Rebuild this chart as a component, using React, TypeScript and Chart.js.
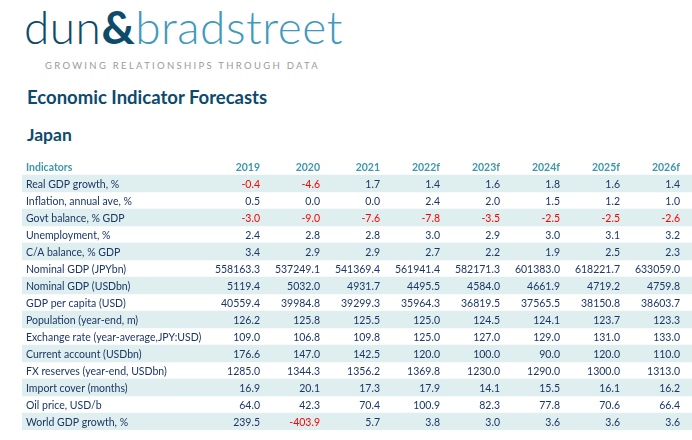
import React, { useEffect, useRef } from "react";
import { Chart, registerables } from "chart.js";

Chart.register(...registerables);

const years = ["2019", "2020", "2021", "2022f", "2023f", "2024f", "2025f", "2026f"];
const indicators = [
  "Real GDP growth, %",
  "Inflation, annual ave, %",
  "Govt balance, % GDP",
  "Unemployment, %",
  "C/A balance, % GDP",
  "Nominal GDP (JPYbn)",
  "Nominal GDP (USDbn)",
  "GDP per capita (USD)",
  "Population (year-end, m)",
  "Exchange rate (year-average,JPY:USD)",
  "Current account (USDbn)",
  "FX reserves (year-end, USDbn)",
  "Import cover (months)",
  "Oil price, USD/b",
  "World GDP growth, %",
];

const realGdpGrowth = [-0.4, -4.6, 1.7, 1.4, 1.6, 1.8, 1.6, 1.4];
const inflation = [0.5, 0.0, 0.0, 2.4, 2.0, 1.5, 1.2, 1.0];
const govtBalance = [-3.0, -9.0, -7.6, -7.8, -3.5, -2.5, -2.5, -2.6];
const unemployment = [2.4, 2.8, 2.8, 3.0, 2.9, 3.0, 3.1, 3.2];
const caBalance = [3.4, 2.9, 2.9, 2.7, 2.2, 1.9, 2.5, 2.3];
const nominalGdpJpy = [558163.3, 537249.1, 541369.4, 561941.4, 582171.3, 601383.0, 618221.7, 633059.0];
const nominalGdpUsd = [5119.4, 5032.0, 4931.7, 4495.5, 4584.0, 4661.9, 4719.2, 4759.8];
const gdpPerCapita = [40559.4, 39984.8, 39299.3, 35964.3, 36819.5, 37565.5, 38150.8, 38603.7];
const population = [126.2, 125.8, 125.5, 125.0, 124.5, 124.1, 123.7, 123.3];
const exchangeRate = [109.0, 106.8, 109.8, 125.0, 127.0, 129.0, 131.0, 133.0];
const currentAccount = [176.6, 147.0, 142.5, 120.0, 100.0, 90.0, 120.0, 110.0];
const fxReserves = [1285.0, 1344.3, 1356.2, 1369.8, 1230.0, 1290.0, 1300.0, 1313.0];
const importCover = [16.9, 20.1, 17.3, 17.9, 14.1, 15.5, 16.1, 16.2];
const oilPrice = [64.0, 42.3, 70.4, 100.9, 82.3, 77.8, 70.6, 66.4];
const worldGdpGrowth = [239.5, -403.9, 5.7, 3.8, 3.0, 3.6, 3.6, 3.6];

const rows = [
  realGdpGrowth, inflation, govtBalance, unemployment, caBalance, nominalGdpJpy,
  nominalGdpUsd, gdpPerCapita, population, exchangeRate, currentAccount,
  fxReserves, importCover, oilPrice, worldGdpGrowth,
];

const NAVY = "#1c3767";
const TEAL = "#3d98ae";
const BAND = "#dfeeee";
const RED = "#ff0000";
const FONT = "Lato";

export default function App() {
  const ref = useRef<HTMLCanvasElement | null>(null);

  useEffect(() => {
    if (!ref.current) return;
    const labels = ["Indicators", ...indicators];
    const shading = labels.map((_, i) => (i % 2 === 1 ? 1 : null));

    const textPlugin = {
      id: "tableText",
      afterDatasetsDraw(chart: any) {
        const ctx = chart.ctx;
        const y = chart.scales.y;
        const xc = chart.scales.xc;
        ctx.save();
        ctx.textBaseline = "middle";
        const labelX = xc.getPixelForValue(-2.9);
        labels.forEach((lab, i) => {
          const py = y.getPixelForValue(i) + 1;
          if (i === 0) {
            ctx.font = `bold 10.5px ${FONT}`;
            ctx.fillStyle = TEAL;
            ctx.textAlign = "left";
            ctx.fillText(lab, labelX, py);
            ctx.textAlign = "right";
            years.forEach((yr, k) => {
              ctx.fillText(yr, xc.getPixelForValue(k + 1), py);
            });
          } else {
            ctx.font = `10.5px ${FONT}`;
            ctx.fillStyle = NAVY;
            ctx.textAlign = "left";
            ctx.fillText(lab, labelX, py);
            ctx.textAlign = "right";
            rows[i - 1].forEach((v, k) => {
              ctx.fillStyle = v < 0 ? RED : NAVY;
              ctx.fillText(v.toFixed(1), xc.getPixelForValue(k + 1), py);
            });
          }
        });
        ctx.restore();
      },
    };

    const chart = new Chart(ref.current, {
      type: "bar",
      data: {
        labels,
        datasets: [
          {
            data: shading as any,
            backgroundColor: BAND,
            borderWidth: 0,
            barPercentage: 1,
            categoryPercentage: 1,
            xAxisID: "x",
            yAxisID: "y",
          },
        ],
      },
      options: {
        indexAxis: "y",
        responsive: false,
        animation: false,
        layout: { padding: { top: 158, left: 22, right: 0, bottom: 10 } },
        scales: {
          x: { type: "linear", min: 0, max: 1, display: false },
          xc: { type: "linear", min: -2.9667, max: 8.2, display: false, axis: "x" } as any,
          y: { type: "category", display: false, offset: true },
        },
        plugins: { legend: { display: false }, tooltip: { enabled: false }, title: { display: false } },
      },
      plugins: [textPlugin],
    });
    return () => chart.destroy();
  }, []);

  return (
    <div style={{ position: "fixed", left: 0, top: 0, width: 692, height: 440, background: "#fff", overflow: "hidden" }}>
      <div
        style={{
          position: "absolute", left: 24, top: 4, fontFamily: FONT, fontWeight: 300,
          fontSize: 46, lineHeight: 1, whiteSpace: "nowrap", letterSpacing: 0.5,
        }}
      >
        <span style={{ color: "#0e4a6b" }}>dun</span>
        <span style={{ color: "#0e4a6b", fontWeight: 700 }}>&amp;</span>
        <span style={{ color: "#3f9abb" }}>bradstreet</span>
      </div>
      <div
        style={{
          position: "absolute", left: 45, top: 61, fontFamily: FONT, fontSize: 9.5,
          letterSpacing: 2.3, color: "#9a9a9a", whiteSpace: "nowrap", lineHeight: 1,
        }}
      >
        GROWING RELATIONSHIPS THROUGH DATA
      </div>
      <div
        style={{
          position: "absolute", left: 27, top: 88, fontFamily: FONT, fontWeight: 700,
          fontSize: 18.5, color: "#0d4a6e", whiteSpace: "nowrap", lineHeight: 1,
        }}
      >
        Economic Indicator Forecasts
      </div>
      <div
        style={{
          position: "absolute", left: 27, top: 126, fontFamily: FONT, fontWeight: 700,
          fontSize: 17.5, color: "#0d4a6e", whiteSpace: "nowrap", lineHeight: 1,
        }}
      >
        Japan
      </div>
      <canvas ref={ref} width={692} height={440} style={{ position: "absolute", left: 0, top: 0 }} />
    </div>
  );
}
